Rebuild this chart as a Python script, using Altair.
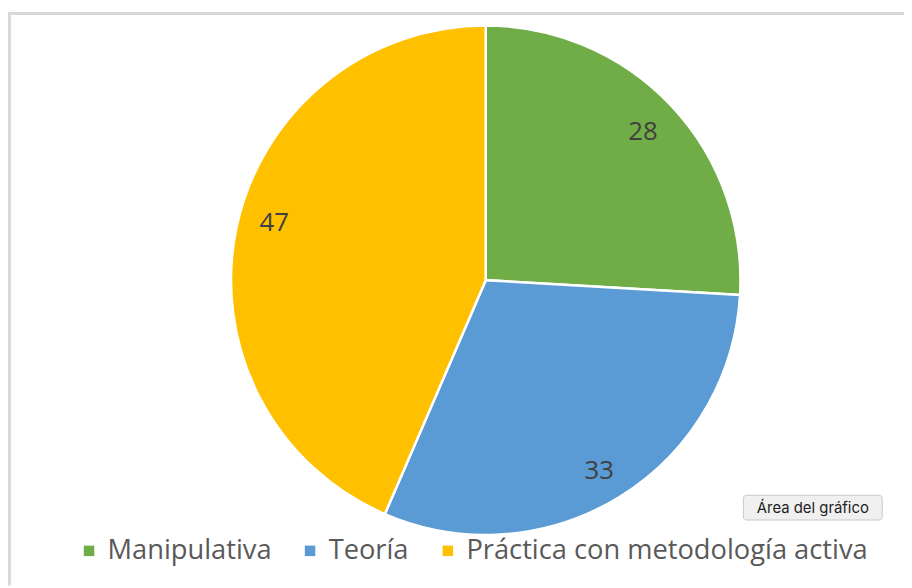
import altair as alt
import pandas as pd

categories = ["Manipulativa", "Teoría", "Práctica con metodología activa"]
values = [28, 33, 47]
colors = ["#70AD47", "#5B9BD5", "#FFC000"]

df = pd.DataFrame({"cat": categories, "val": values, "ord": [0, 1, 2]})

FONT = "Open Sans"
CX, CY = 482, 272

base = alt.Chart(df).encode(
    theta=alt.Theta("val:Q", stack=True),
    order=alt.Order("ord:Q"),
)

arcs = base.mark_arc(stroke="white", strokeWidth=2.5).encode(
    x=alt.value(CX),
    y=alt.value(CY),
    radius=alt.value(257),
    color=alt.Color(
        "cat:N",
        scale=alt.Scale(domain=categories, range=colors),
        legend=alt.Legend(
            title=None,
            orient="none",
            direction="horizontal",
            legendX=68,
            legendY=531,
            symbolType="square",
            symbolSize=112,
            symbolStrokeWidth=0,
            labelFont=FONT,
            labelFontSize=27.5,
            labelColor="#595959",
            columnPadding=25,
            symbolOffset=0,
            labelOffset=5,
            labelLimit=600,
        ),
    ),
)

# label nudges (Excel "best fit" placement), one per category
label_dy = {"Manipulativa": 0, "Teoría": 7, "Práctica con metodología activa": -14}

label_layers = [
    base.mark_text(font=FONT, fontSize=26, color="#404040", dy=label_dy[c]).encode(
        x=alt.value(CX),
        y=alt.value(CY),
        radius=alt.value(218),
        text=alt.Text("val:Q"),
        opacity=alt.condition(alt.datum.cat == c, alt.value(1), alt.value(0)),
    )
    for c in categories
]

frame_df = pd.DataFrame({"k": [0]})
top_line = alt.Chart(frame_df).mark_rule(color="#d9d9d9", strokeWidth=3).encode(
    x=alt.value(1.5), x2=alt.value(904), y=alt.value(3)
)
left_line = alt.Chart(frame_df).mark_rule(color="#d9d9d9", strokeWidth=3).encode(
    x=alt.value(1.5), y=alt.value(1.5), y2=alt.value(580)
)

tip_df = pd.DataFrame({"t": ["Área del gráfico"]})
tip_box = alt.Chart(tip_df).mark_rect(
    fill="#f0f0f0", stroke="#c8c8c8", strokeWidth=1, cornerRadius=3
).encode(x=alt.value(742), x2=alt.value(882), y=alt.value(489), y2=alt.value(514))
tip_text = alt.Chart(tip_df).mark_text(
    font="Inter", fontSize=15, color="#222222", align="center", baseline="middle"
).encode(x=alt.value(812), y=alt.value(502), text="t:N")

chart = (
    alt.layer(top_line, left_line, arcs, *label_layers, tip_box, tip_text)
    .properties(
        width=904,
        height=580,
        autosize=alt.AutoSizeParams(type="none"),
        padding=0,
        background="white",
    )
    .configure_view(stroke=None)
)

chart.save("out.html", embed_options={"renderer": "svg", "actions": False})
